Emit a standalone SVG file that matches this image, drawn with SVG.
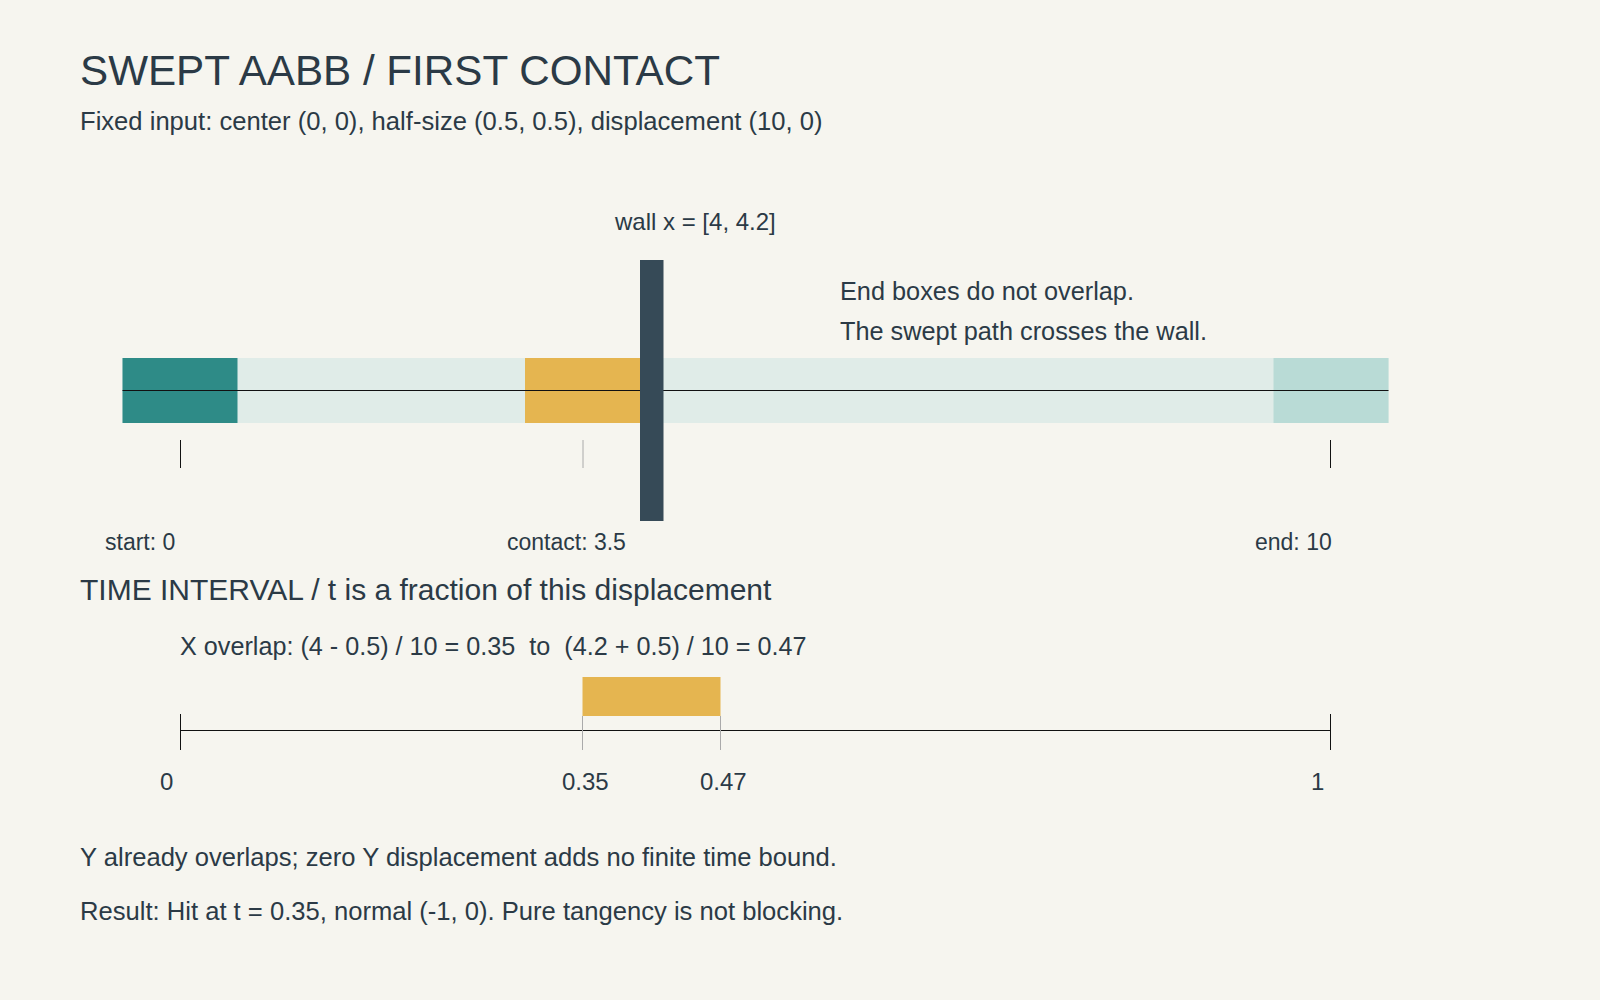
<svg xmlns="http://www.w3.org/2000/svg" width="1600" height="1000" viewBox="0 0 1600 1000">
<style>
text{font-family:"Liberation Sans",Arial,sans-serif;fill:#2b3a46}
.t{font-size:42.2px}
.b{font-size:25.6px}
.x{font-size:25.2px}
.n{font-size:25.3px}
.w{font-size:24px}
.h{font-size:30px}
.s{font-size:23px}
.v{font-size:24px}
</style>
<rect width="1600" height="1000" fill="#f6f5ef"/>
<text class="t" x="80" y="85">SWEPT AABB / FIRST CONTACT</text>
<text class="b" x="80" y="130">Fixed input: center (0, 0), half-size (0.5, 0.5), displacement (10, 0)</text>
<g id="sweep">
<rect x="122.5" y="358" width="1266" height="65" fill="#e0ece8"/>
<rect x="1273.5" y="358" width="115" height="65" fill="#b9dbd6"/>
<rect x="122.5" y="358" width="115" height="65" fill="#2e8b87"/>
<rect x="525" y="358" width="115" height="65" fill="#e5b550"/>
<line x1="122.5" y1="390.5" x2="1388.5" y2="390.5" stroke="#111" stroke-width="1"/>
</g>
<g id="wall">
<rect x="640" y="260" width="23.5" height="261" fill="#364a57"/>
<text class="w" x="615" y="230">wall x = [4, 4.2]</text>
</g>
<g id="note">
<text class="n" x="840" y="300">End boxes do not overlap.</text>
<text class="n" x="840" y="340">The swept path crosses the wall.</text>
</g>
<g id="ticks">
<line x1="180.5" y1="440" x2="180.5" y2="468" stroke="#111"/>
<line x1="583" y1="440" x2="583" y2="468" stroke="#aaa"/>
<line x1="1330.5" y1="440" x2="1330.5" y2="468" stroke="#111"/>
<text class="s" x="105" y="550">start: 0</text>
<text class="s" x="507" y="550">contact: 3.5</text>
<text class="s" x="1255" y="550">end: 10</text>
</g>
<text class="h" x="80" y="600">TIME INTERVAL / t is a fraction of this displacement</text>
<text class="x" x="180" y="655" xml:space="preserve">X overlap: (4 - 0.5) / 10 = 0.35  to  (4.2 + 0.5) / 10 = 0.47</text>
<g id="timeline">
<rect x="582.5" y="677" width="138" height="39" fill="#e5b550"/>
<line x1="180" y1="730.5" x2="1330" y2="730.5" stroke="#111"/>
<line x1="180.5" y1="714" x2="180.5" y2="750" stroke="#111"/>
<line x1="1330.5" y1="714" x2="1330.5" y2="750" stroke="#111"/>
<line x1="582.5" y1="716" x2="582.5" y2="750" stroke="#aaa"/>
<line x1="720.5" y1="716" x2="720.5" y2="750" stroke="#aaa"/>
<text class="v" x="160" y="790">0</text>
<text class="v" x="562" y="790">0.35</text>
<text class="v" x="700" y="790">0.47</text>
<text class="v" x="1311" y="790">1</text>
</g>
<text class="b" x="80" y="866">Y already overlaps; zero Y displacement adds no finite time bound.</text>
<text class="b" x="80" y="920">Result: Hit at t = 0.35, normal (-1, 0). Pure tangency is not blocking.</text>
</svg>
